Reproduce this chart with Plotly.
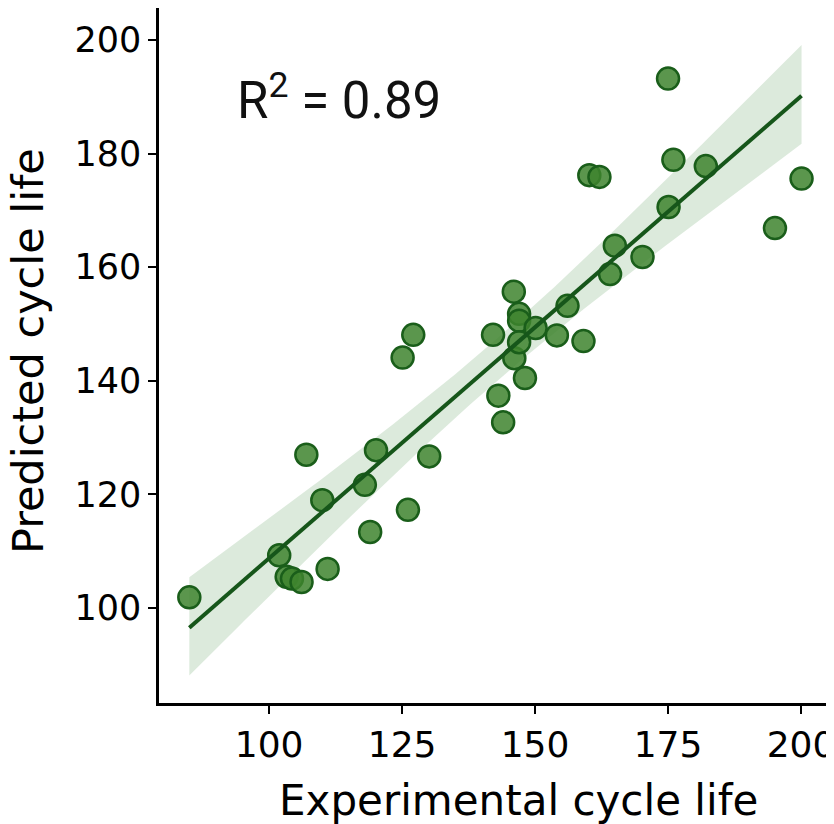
import numpy as np
import plotly.graph_objects as go

experimental = [85.0, 101.9, 103.3, 104.3, 106.1, 107.0, 110.0, 111.0, 118.0, 119.0,
                120.1, 125.1, 126.1, 127.1, 130.1, 142.1, 143.1, 144.0, 146.0, 146.1,
                147.0, 147.0, 147.0, 148.1, 150.1, 154.1, 156.1, 159.1, 160.2, 162.1,
                164.1, 165.0, 170.2, 175.0, 175.1, 176.0, 182.1, 195.1, 200.1]
predicted = [101.9, 109.3, 105.5, 105.2, 104.6, 127.0, 119.0, 106.9, 121.7, 113.4,
             127.8, 144.1, 117.3, 148.1, 126.7, 148.1, 137.4, 132.7, 155.7, 144.0,
             151.8, 150.6, 146.8, 140.5, 149.3, 148.0, 153.2, 147.0, 176.2, 175.9,
             158.8, 163.8, 161.8, 193.2, 170.6, 178.9, 177.8, 166.9, 175.6]
r2_label = "R<sup>2</sup> = 0.89"
x_title = "Experimental cycle life"
y_title = "Predicted cycle life"
x_ticks = [100, 125, 150, 175, 200]
y_ticks = [100, 120, 140, 160, 180, 200]

x = np.array(experimental)
y = np.array(predicted)
n = len(x)
slope, intercept = np.polyfit(x, y, 1)
xs = np.linspace(x.min(), x.max(), 100)
ys = intercept + slope * xs
resid = y - (intercept + slope * x)
s = np.sqrt(np.sum(resid ** 2) / (n - 2))
sxx = np.sum((x - x.mean()) ** 2)
tval = 2.026
half = tval * s * np.sqrt(1.0 / n + (xs - x.mean()) ** 2 / sxx)

fig = go.Figure()
fig.add_trace(go.Scatter(
    x=np.concatenate([xs, xs[::-1]]),
    y=np.concatenate([ys + half * 1.18, (ys - half * 1.12)[::-1]]),
    fill="toself", fillcolor="rgba(60,140,60,0.18)",
    line=dict(width=0), hoverinfo="skip", showlegend=False))
fig.add_trace(go.Scatter(
    x=experimental, y=predicted, mode="markers",
    marker=dict(size=22, color="rgba(62,132,46,0.85)",
                line=dict(color="#1a5e1a", width=2.5)),
    showlegend=False))
fig.add_trace(go.Scatter(
    x=xs, y=ys, mode="lines",
    line=dict(color="#16561a", width=4), showlegend=False))

fig.add_annotation(x=93.6, y=190, xref="x", yref="y", text=r2_label,
                   showarrow=False, xanchor="left", yanchor="middle",
                   font=dict(family="Roboto", size=51, color="#111"))
fig.add_annotation(x=0.532, y=-0.141, xref="paper", yref="paper", text=x_title,
                   showarrow=False, xanchor="center", yanchor="middle",
                   font=dict(family="DejaVu Sans", size=42, color="black"))
fig.add_annotation(x=-0.194, y=0.5065, xref="paper", yref="paper", text=y_title,
                   showarrow=False, xanchor="center", yanchor="middle", textangle=-90,
                   font=dict(family="DejaVu Sans", size=43, color="black"))

font_family = "DejaVu Sans"
fig.update_layout(
    width=834, height=824,
    margin=dict(l=151, r=8, t=0, b=129),
    plot_bgcolor="white", paper_bgcolor="white",
    font=dict(family=font_family, color="black"),
)
fig.update_xaxes(
    range=[79.3, 206.2], tickvals=x_ticks, ticks="outside", ticklen=8, tickwidth=1.5,
    tickcolor="black", showline=True, linecolor="black", linewidth=2.5,
    showgrid=False, zeroline=False, tickfont=dict(size=36), automargin=False)
fig.update_yaxes(
    range=[83.3, 205.63], tickvals=y_ticks, ticks="outside", ticklen=8, tickwidth=1.5,
    tickcolor="black", showline=True, linecolor="black", linewidth=2.5,
    showgrid=False, zeroline=False, tickfont=dict(size=35), automargin=False)

fig.write_html("out.html")
